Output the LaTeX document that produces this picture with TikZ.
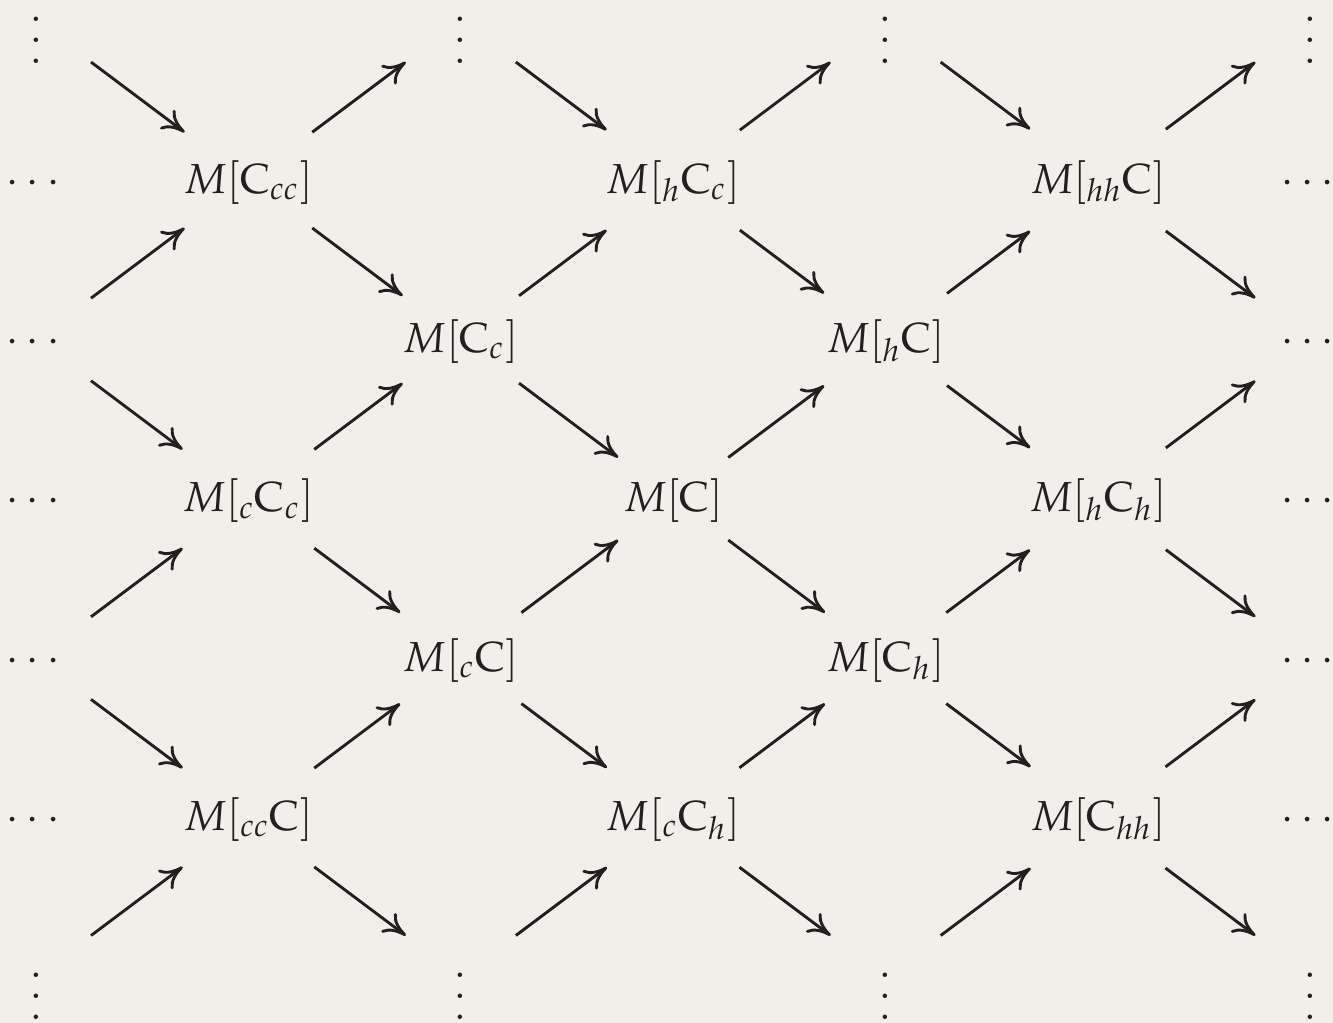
\documentclass[tikz,border=0pt]{standalone}
\usepackage{mathpazo}
\usetikzlibrary{arrows.meta}
\definecolor{paper}{RGB}{240,239,233}
\definecolor{ink}{RGB}{35,31,32}
% vertical continuation dots, hung below the grid point
\newcommand\stackdots{\vbox{\baselineskip=5.25pt\lineskiplimit=-10pt\hbox{.}\hbox{.}\hbox{.}}}
\newcommand\vcont{\makebox[0pt]{\raisebox{-7.5pt}{\stackdots}}}
% horizontal continuation dots
\newcommand\hcont{\makebox[0pt]{$\cdots$\kern1.5pt}}
% an object of the lattice, centred on its grid point
\newcommand\obj[1]{\makebox[0pt]{$#1$}}
\begin{document}
\begin{tikzpicture}[x=0.25pt,y=-0.25pt,
  cell/.style={circle, inner sep=0pt, text height=8.75pt, text depth=2.25pt,
    font=\fontsize{10.5}{12.6}\selectfont, text=ink, minimum size=#1},
  cell/.default=34pt,
  map/.style={draw=ink, line width=0.72pt,
    -{Computer Modern Rightarrow[length=5.6pt,width=6pt]}}]
\fill[paper] (0,0) rectangle (1333,1023);
\useasboundingbox (0,0) rectangle (1333,1023);

% row 0
\node[cell] (n00) at (36,20.8) {\vcont};
\node[cell] (n02) at (460.8,20.8) {\vcont};
\node[cell] (n04) at (885.6,20.8) {\vcont};
\node[cell] (n06) at (1310.4,20.8) {\vcont};
% row 1
\node[cell] (n10) at (36,180.1) {\hcont};
\node[cell=39.5pt] (n11) at (248.4,180.1) {\obj{M[\mathrm{C}_{cc}]}};
\node[cell=41.25pt] (n13) at (673.2,180.1) {\obj{M[{}_{h}\mathrm{C}_{c}]}};
\node[cell=42pt] (n15) at (1098,180.1) {\obj{M[{}_{hh}\mathrm{C}]}};
\node[cell] (n16) at (1310.4,180.1) {\hcont};
% row 2
\node[cell] (n20) at (36,339.5) {\hcont};
\node[cell=36pt] (n22) at (460.8,339.5) {\obj{M[\mathrm{C}_{c}]}};
\node[cell=38pt] (n24) at (885.6,339.5) {\obj{M[{}_{h}\mathrm{C}]}};
\node[cell] (n26) at (1310.4,339.5) {\hcont};
% row 3
\node[cell] (n30) at (36,498.8) {\hcont};
\node[cell=40.75pt] (n31) at (248.4,498.8) {\obj{M[{}_{c}\mathrm{C}_{c}]}};
\node[cell] (n33) at (673.2,498.8) {\obj{M[\mathrm{C}]}};
\node[cell=42pt] (n35) at (1098,498.8) {\obj{M[{}_{h}\mathrm{C}_{h}]}};
\node[cell] (n36) at (1310.4,498.8) {\hcont};
% row 4
\node[cell] (n40) at (36,658.1) {\hcont};
\node[cell=37.5pt] (n42) at (460.8,658.1) {\obj{M[{}_{c}\mathrm{C}]}};
\node[cell=37.5pt] (n44) at (885.6,658.1) {\obj{M[\mathrm{C}_{h}]}};
\node[cell] (n46) at (1310.4,658.1) {\hcont};
% row 5
\node[cell] (n50) at (36,817.5) {\hcont};
\node[cell=40.75pt] (n51) at (248.4,817.5) {\obj{M[{}_{cc}\mathrm{C}]}};
\node[cell=41pt] (n53) at (673.2,817.5) {\obj{M[{}_{c}\mathrm{C}_{h}]}};
\node[cell=41.75pt] (n55) at (1098,817.5) {\obj{M[\mathrm{C}_{hh}]}};
\node[cell] (n56) at (1310.4,817.5) {\hcont};
% row 6
\node[cell] (n60) at (36,976.8) {\vcont};
\node[cell] (n62) at (460.8,976.8) {\vcont};
\node[cell] (n64) at (885.6,976.8) {\vcont};
\node[cell] (n66) at (1310.4,976.8) {\vcont};

% the maps of the lattice, all running left to right
\foreach \a/\b in {n00/n11, n02/n13, n04/n15,
  n11/n02, n11/n22, n13/n04, n13/n24, n15/n06, n15/n26,
  n20/n11, n20/n31, n22/n13, n22/n33, n24/n15, n24/n35,
  n31/n22, n31/n42, n33/n24, n33/n44, n35/n26, n35/n46,
  n40/n31, n40/n51, n42/n33, n42/n53, n44/n35, n44/n55,
  n51/n42, n51/n62, n53/n44, n53/n64, n55/n46, n55/n66,
  n60/n51, n62/n53, n64/n55}
  \draw[map] (\a) -- (\b);
\end{tikzpicture}
\end{document}
